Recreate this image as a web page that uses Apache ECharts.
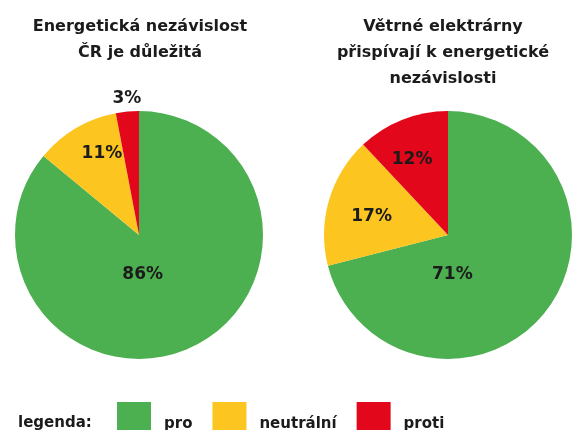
<!DOCTYPE html>
<html>
<head>
<meta charset="utf-8">
<script src="https://cdn.jsdelivr.net/npm/echarts@6/dist/echarts.min.js"></script>
<style>
  html, body { margin: 0; padding: 0; background: #fff; }
  #main { width: 574px; height: 430px; }
</style>
</head>
<body>
<div id="main"></div>
<script>
var categories = ['pro', 'neutrální', 'proti'];
var leftValues = [86, 11, 3];
var rightValues = [71, 17, 12];
var leftTitle = 'Energetická nezávislost\nČR je důležitá';
var rightTitle = 'Větrné elektrárny\npřispívají k energetické\nnezávislosti';

var colors = ['#4caf50', '#fdc51f', '#e2071a'];
var font = '"DejaVu Sans", "Open Sans", sans-serif';
var ink = '#1b1b1b';

// label nudges (dx, dy) from the default inside position
var leftShift = [[-24, -19], [-4, -25], [-6, -72]];
var rightShift = [[-47, 0], [-14, 0], [-12, -15]];

function pieSeries(values, center, shift) {
	return {
		type: 'pie',
		silent: true,
		center: center,
		radius: 124,
		startAngle: 90,
		clockwise: true,
		data: categories.map(function(name, i) {
			return { name: name, value: values[i] };
		}),
		label: {
			show: true,
			position: 'inside',
			formatter: '{c}%',
			color: ink,
			fontFamily: font,
			fontWeight: 'bold',
			fontSize: 17
		},
		labelLine: { show: false },
		labelLayout: function(params) {
			var s = shift[params.dataIndex];
			return { dx: s[0], dy: s[1] };
		},
		itemStyle: { borderWidth: 0, borderRadius: 0 }
	};
}

var titleStyle = {
	color: ink,
	fontFamily: font,
	fontWeight: 'bold',
	fontSize: 16,
	lineHeight: 26
};
var legendText = { color: ink, fontFamily: font, fontWeight: 'bold', fontSize: 15 };

var option = {
	color: colors,
	animation: false,
	title: [{
		text: leftTitle,
		left: 135,
		top: 9,
		textAlign: 'center',
		textStyle: titleStyle
	}, {
		text: rightTitle,
		left: 438,
		top: 9,
		textAlign: 'center',
		textStyle: titleStyle
	}, {
		text: 'legenda:',
		left: 13,
		top: 411,
		textStyle: legendText
	}],
	legend: {
		data: categories,
		left: 112,
		top: 397,
		itemWidth: 34,
		itemHeight: 44,
		itemGap: 20,
		selectedMode: false,
		icon: 'rect',
		itemStyle: { borderRadius: 0 },
		textStyle: Object.assign({ padding: [0, 0, 0, 8] }, legendText)
	},
	series: [
		pieSeries(leftValues, [139, 235], leftShift),
		pieSeries(rightValues, [448, 235], rightShift)
	]
};

var chart = echarts.init(document.getElementById('main'));
chart.setOption(option);
</script>
</body>
</html>
